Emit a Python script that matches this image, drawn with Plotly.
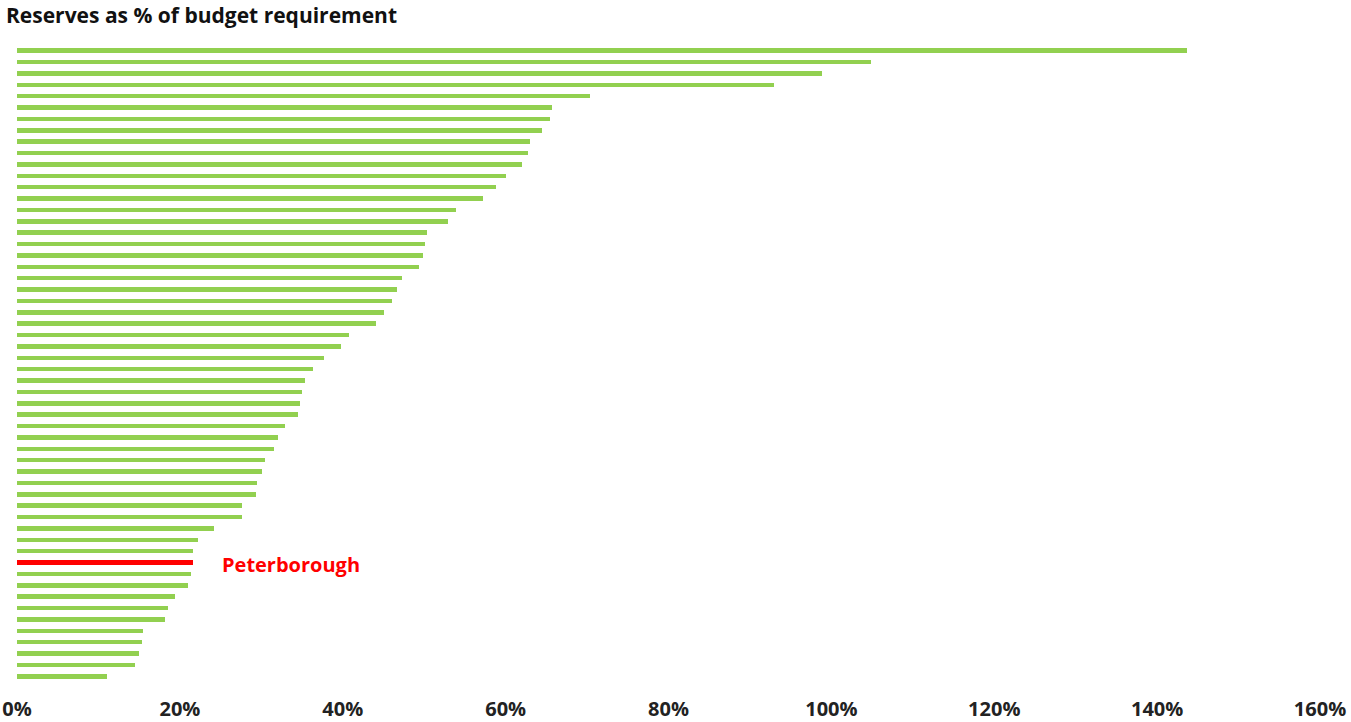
import plotly.graph_objects as go

# Authorities ordered top to bottom (names not shown in reference except Peterborough)
authorities = [f"Authority {i}" for i in range(1, 46)] + ["Peterborough"] + [f"Authority {i}" for i in range(46, 56)]
reserves_pct = [
    143.7, 104.9, 98.9, 93.0, 70.4, 65.7, 65.5, 64.5, 63.0, 62.7,
    62.0, 60.1, 58.8, 57.2, 53.9, 52.9, 50.4, 50.1, 49.9, 49.4,
    47.3, 46.7, 46.1, 45.1, 44.1, 40.8, 39.8, 37.7, 36.4, 35.4,
    35.0, 34.8, 34.5, 32.9, 32.1, 31.6, 30.5, 30.1, 29.5, 29.4,
    27.6, 27.6, 24.2, 22.2, 21.6, 21.6, 21.4, 21.0, 19.4, 18.6,
    18.2, 15.5, 15.4, 15.0, 14.5, 11.1,
]
highlight = "Peterborough"
tick_vals = [0, 20, 40, 60, 80, 100, 120, 140, 160]
tick_text = [f"{v}%" for v in tick_vals]
title_text = "Reserves as % of budget requirement"

GREEN = "#92D050"
RED = "#FF0000"
FONT = "Open Sans, Lato, sans-serif"
colors = [RED if a == highlight else GREEN for a in authorities]

fig = go.Figure(
    go.Bar(
        x=reserves_pct,
        y=authorities,
        orientation="h",
        marker=dict(color=colors, line=dict(width=0)),
        width=0.4,
        hoverinfo="x+y",
    )
)

hi_idx = authorities.index(highlight)
fig.add_annotation(
    x=reserves_pct[hi_idx], y=authorities[hi_idx],
    xref="x", yref="y",
    text=f"<b>{highlight}</b>",
    showarrow=False, xanchor="left", yanchor="middle",
    xshift=27, yshift=-2,
    font=dict(family=FONT, size=20, color=RED),
)

fig.update_layout(
    width=1351, height=722,
    margin=dict(l=17, r=31, t=45, b=40, autoexpand=False),
    paper_bgcolor="white", plot_bgcolor="white",
    showlegend=False,
    bargap=0,
    title=dict(
        text=f"<b>{title_text}</b>",
        x=6 / 1351, xref="container", xanchor="left",
        y=1 - 16 / 722, yref="container", yanchor="middle",
        font=dict(family=FONT, size=21, color="#111111"),
    ),
    xaxis=dict(
        range=[0, 160],
        tickvals=tick_vals, ticktext=[f"<b>{t}</b>" for t in tick_text],
        showgrid=False, zeroline=False, showline=False,
        ticks="", ticklabelstandoff=13, automargin=False,
        tickfont=dict(family=FONT, size=20, color="#222222"),
        fixedrange=True,
    ),
    yaxis=dict(
        autorange="reversed", automargin=False,
        showticklabels=False, showgrid=False, zeroline=False, showline=False,
        ticks="", fixedrange=True,
    ),
)

fig.write_html("out.html")
